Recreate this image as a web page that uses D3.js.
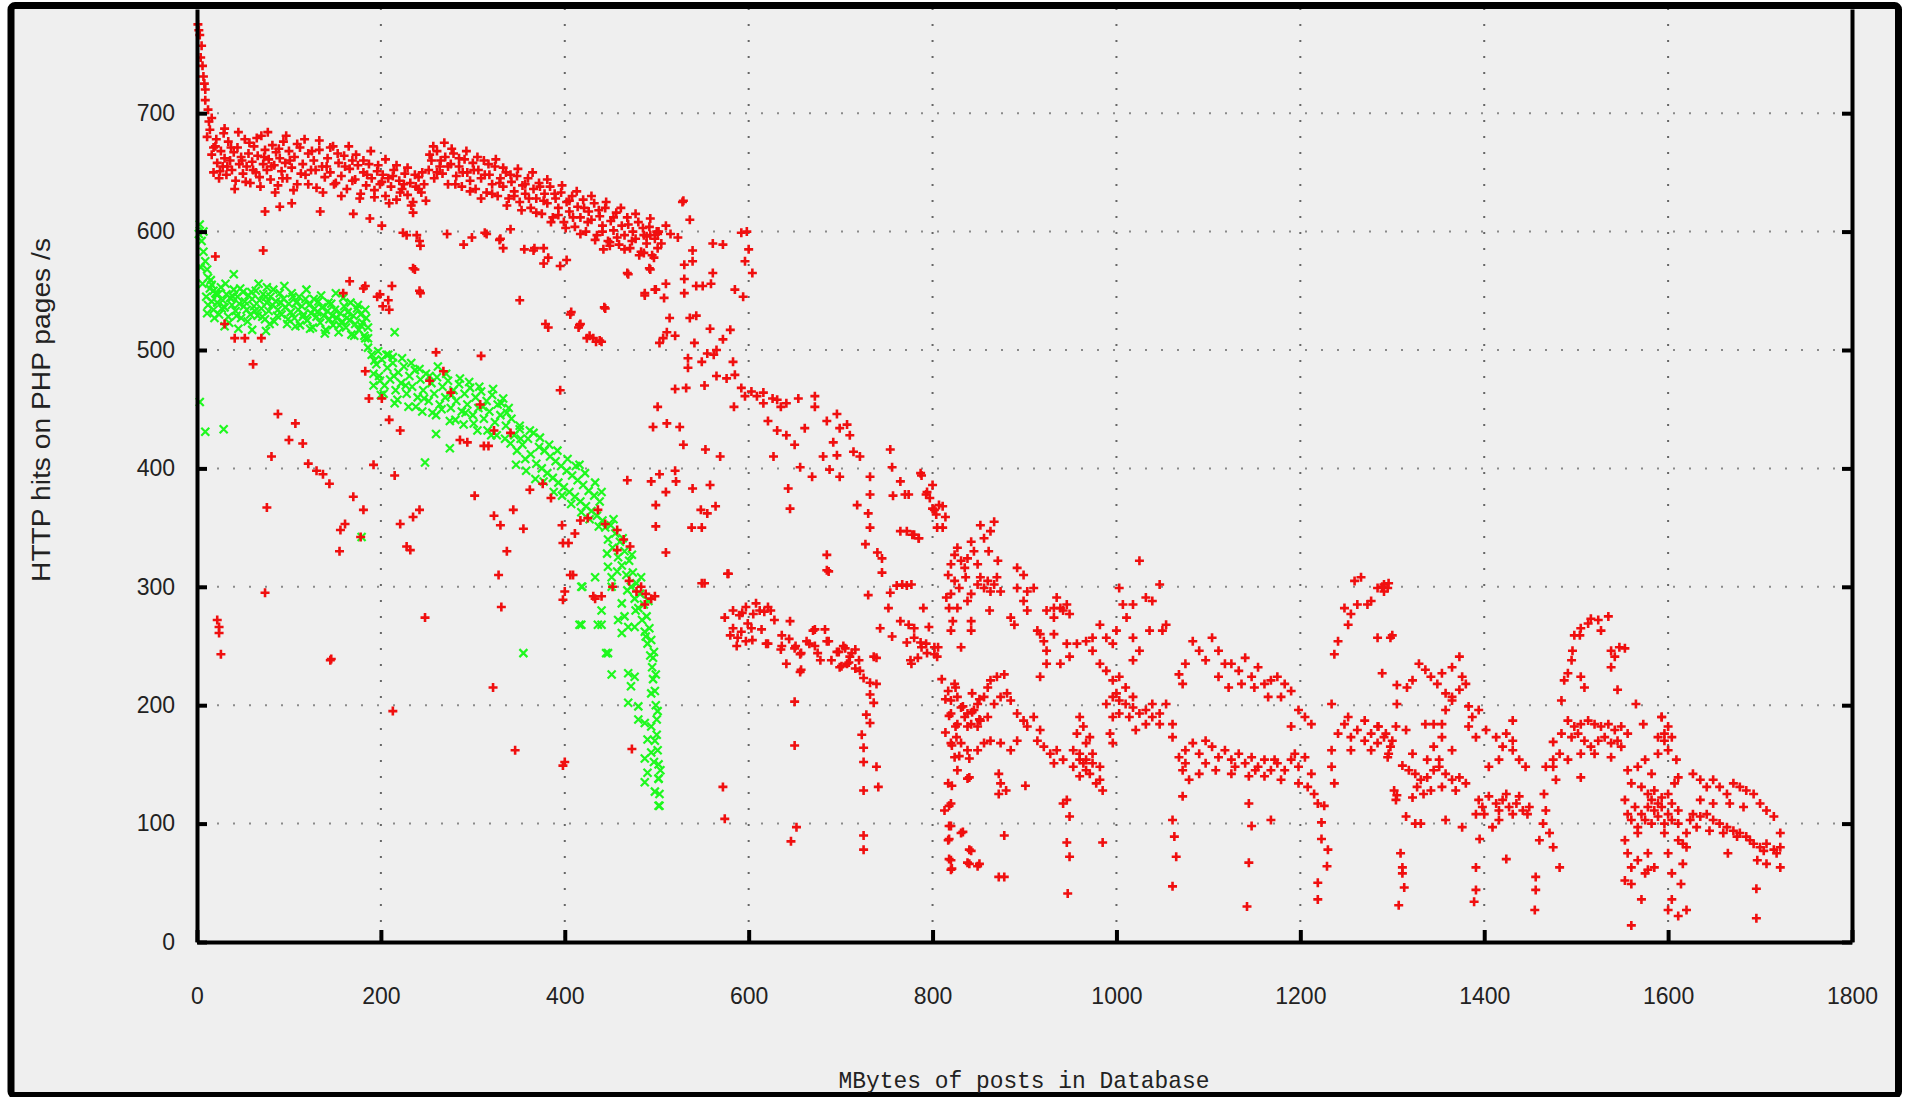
<!DOCTYPE html>
<html>
<head>
<meta charset="utf-8">
<script src="https://cdn.jsdelivr.net/npm/d3@7"></script>
<style>
  html, body { margin: 0; padding: 0; background: #fff; }
  svg { display: block; }
  .tick text { font-family: "Liberation Sans", Arial, sans-serif; font-size: 23px; fill: #222; }
  .axis-title { font-family: "Liberation Sans", Arial, sans-serif; fill: #222; }
</style>
</head>
<body>
<svg id="chart" width="1905" height="1097"></svg>
<script>
var xTicks = [0, 200, 400, 600, 800, 1000, 1200, 1400, 1600, 1800]
var yTicks = [0, 100, 200, 300, 400, 500, 600, 700]
var xTitle = 'MBytes of posts in Database'
var yTitle = 'HTTP hits on PHP pages /s'

// red "+" series
var redStart = [[1,775],[2,770],[3,766],[5,757],[4,747],[6,740],[7,731],[8,725],[9,720],[9,711],[12,703],[13,693],[16,696],[14,686],[11,680],[18,671],[30,687],[20,579]]

var redBand = [[16,665],[18,650],[20,672],[22,658],[24,645],[26,668],[28,655],[30,662],[32,648],[34,676],[36,660],[38,652],[40,667],[42,643],[44,671],[46,657],[48,663],[50,649],[52,678],[54,655],[56,666],[58,641],[60,659],[62,672],[64,650],[66,664],[68,646],[70,681],[72,657],[74,669],[76,652],[78,661],[80,644],[82,673],[84,656],[86,667],[88,639],[90,662],[92,651],[94,676],[96,658],[98,645],[100,668],[103,654],[106,663],[109,640],[112,671],[115,657],[118,648],[121,666],[124,652],[127,660],[130,637],[133,669],[136,655],[139,646],[142,662],[145,650],[148,672],[151,641],[154,658],[157,647],[160,664],[163,636],[166,653],[169,660],[172,644],[175,656],[178,632],[181,650],[184,639],[187,657],[190,645],[193,635],[196,651],[199,640],[202,648],[205,630],[208,645],[211,638],[214,652],[217,627],[220,643],[223,636],[226,649],[229,631],[232,641],[235,625],[238,638],[241,646],[244,633],[247,640],
  [252,652],[255,660],[258,645],[261,668],[264,655],[267,649],[270,663],[273,640],[276,657],[279,666],[282,647],[285,655],[288,638],[291,661],[294,650],[297,643],[300,658],[303,636],[306,652],[309,645],[312,660],[315,633],[318,648],[321,640],[324,655],[327,630],[330,645],[333,638],[336,650],[339,628],
  [342,642],[345,634],[348,647],[351,625],[354,639],[357,632],[360,645],[363,620],[366,636],[369,628],[372,641],[375,615],[378,632],[381,624],[384,638],[387,612],[390,628],[393,620],[396,633],[399,608],[402,625],[405,617],[408,630],[411,604],[414,621],[417,612],[420,627],[423,600],[426,617],[429,610],[432,624],[435,597],[438,613],[441,605],[444,620],[447,592],[450,609],[453,601],[456,616],[459,589],[462,605],[465,597],[468,612],[471,586],[474,600],[477,594],[480,608],[483,583],[486,597],[489,590],[492,604],[495,580],[498,594],[501,586],
  [21,678],[25,651],[29,683],[33,655],[37,671],[41,636],[45,684],[49,660],[53,642],[57,675],[61,652],[65,679],[69,638],[73,663],[77,684],[81,655],[85,633],[89,670],[93,645],[97,681],[101,660],[105,635],[109,674],[113,649],[117,678],[121,640],[125,668],[129,652],[133,677],[137,633],[141,655],[145,671],[149,640],[153,666],[157,630],[161,655],[165,672],[169,643],[173,665],[177,628],[181,660],[185,648],[189,668],[193,629],[197,656],[201,642],[205,661],[209,624],[213,647],[217,656],[221,633],[225,640],[229,654],[233,622],[237,648],[241,636],[245,650],[249,626],[253,665],[257,672],[261,650],[265,660],[269,675],[273,655],[277,670],[281,640],[285,662],[289,650],[293,668],[297,634],[301,652],[305,663],[309,628],[313,648],[317,657],[321,632],[325,661],[329,641],[333,654],[337,622],[341,648],[345,630],[349,653],[353,618],[357,640],[361,628],[365,650],[369,616],[373,638],[377,626],[381,644],[385,608],[389,632],[393,614],[397,639],[401,603],[405,626],[409,612],[413,634],[417,598],[421,620],[425,608],[429,630],[433,593],[437,618],[441,600],[445,625],[449,588],[453,612],[457,595],[461,620],[465,585],[469,606],[473,592],[477,615],[481,580],[485,603],[489,596],[493,611],[497,578],[500,600],[505,590],[510,605],[515,598]]

var redScatter = [[74,617],[90,621],[103,624],[134,617],[170,615],[188,611],[201,605],[208,542],[181,552],[166,558],[196,545],[72,584],[235,616],[237,568],[243,548],[243,588],[239,597],[224,599],[272,598],[290,589],[299,595],[315,598],[330,594],[333,586],[341,602],[351,542],[366,584],[377,586],[395,571],[402,576],[406,530],[382,519],[415,519],[424,510],[444,535],[442,585],[449,591],[469,564],[486,582],[493,568],[498,551],[487,546],[507,510],[493,597],[502,600],[529,626],[598,600],[600,585],[604,565],[596,575],
  [242,592],[228,597],[313,599],[329,593],[356,585],[367,586],[377,573],[382,578],[235,569],[242,550],[199,547],[202,537],[209,534],[159,548],[183,554],[212,554],[379,522],[417,522],[431,510],[438,508],[41,510],[52,510],[70,510],[61,488],[30,522],
  [260,498],[268,482],[309,495],[395,466],[183,482],[187,459],[201,459],[209,441],[221,432],[253,474],[276,464],[308,454],[286,424],[294,422],[312,419],[317,419],[323,432],[341,430],
  [88,446],[107,438],[100,424],[115,421],[81,410],[121,404],[130,398],[137,395],[144,387],[192,403],[215,394],[302,377],[323,360],[330,352],[344,365],[355,349],[362,382],[376,387],[385,375],[397,352],[404,337],[411,345],[417,356],[425,358],[436,365],[444,353],[457,348],[464,340],[471,334],[457,331],
  [76,367],[170,376],[181,365],[161,353],[156,348],[155,330],[178,342],[221,353],[235,359],[242,365],[228,334],[232,331],[337,330],[328,310],[331,283],[248,274],[398,337],[406,310],[431,292],[400,296],[398,289],[74,295],[22,272],[24,266],[24,261],[26,243],[146,239],[213,195],[322,215],[346,162],[398,149],[145,238],[440,292],[452,300],[470,305],[478,296]]

var redMid = [[528,625],[536,610],[592,599],[561,590],[572,589],[523,595],[501,598],[492,569],[468,565],[510,556],[499,551],[508,544],[487,548],[530,572],[539,584],[539,575],[530,560],[530,548],[543,554],[550,554],[559,556],[561,565],[585,551],[594,545],[443,536],[407,532],[416,521],[427,512],[434,507],[440,507],[514,527],[520,512],[511,515],[503,506],[536,527],[543,529],[558,518],[580,517],[572,509],[541,506],
  [534,493],[534,485],[549,490],[555,497],[562,496],[565,500],[583,490],[565,478],[552,470],[576,476],[585,479],[532,468],[520,467],
  [592,468],[596,461],[603,465],[609,461],[616,464],[626,459],[631,458],[641,455],[654,459],[672,461],[635,452],[616,455],[621,440],[631,432],[641,428],[650,420],[661,434],[672,452],[685,440],[696,446],[699,434],[707,437],[710,428],[714,414],[721,410],[696,411],[692,422],[681,410],[627,410],[584,452],[501,452],[496,435],[511,438],[525,435],[529,420],[553,416],[569,410],
  [494,389],[503,395],[520,398],[521,389],[510,380],[539,383],[558,386],[499,369],[564,368],[548,365],[555,362],[499,351],[538,350],[549,350],[510,329],[577,311],[549,303],[468,390],[643,383],[645,366],
  [656,401],[669,393],[688,399],[699,393],[732,393],[754,416],[756,401],[765,389],[757,377],[732,378],[718,369],[730,362],[732,350],[727,336],[740,329],[745,324],[745,312],[787,396],[794,380],[802,365],[811,368],[814,359],[805,350],[780,344],[785,341],[765,347],[774,378],[685,327],[685,314],
  [730,293],[754,295],[761,301],[772,301],[752,282],[743,265],[756,258],[765,271],[780,265],[772,253],[787,253],[794,244],[802,249],[805,241],[776,238],
  [574,274],[583,280],[590,276],[597,283],[605,277],[612,280],[621,283],[583,265],[592,262],[603,265],[580,259],[587,250],[597,254],[619,252],[635,247],[644,256],[651,250],[656,243],[663,254],[670,263],[672,250],[685,254],[696,245],[703,250],[710,241],[716,247],[707,235],[721,229],[678,238],[656,228],[641,235],[699,232],[736,241],
  [409,310],[433,290],[483,300],[488,294],[494,290],[487,285],[498,292],[578,311],[552,303],[687,313],
  [588,257],[593,278],[599,269],[604,255],[608,286],[617,279],[624,280],[628,272],[614,264],[621,252],[636,250],[636,259],[645,271],[650,248],[657,244],[657,230],[666,252],[672,264],[683,264],[675,244],[687,254],[690,238],[698,245],[705,248],[712,244],[720,238],[701,233],[709,236],[716,231],
  [739,240],[725,223],[732,219],[739,218],[732,209],[736,202],[728,192],[732,185],[723,175],[725,164],[725,152],[739,148],[725,128],[741,131],[725,90],[725,78],
  [650,203],[650,166],[652,97],[646,85],[572,131],[574,104],[473,163],[400,152]]

var redTail = [[814,205],[818,191],[825,182],[814,177],[821,166],[829,157],[840,155],[840,139],[821,132],[818,115],[820,98],[818,87],[833,93],[820,69],[821,62],[840,66],[851,66],[842,77],[810,222],[825,215],[843,210],[851,205],[833,199],[843,194],[851,188],
  [770,378],[772,347],[767,302],[777,302],[774,268],[780,257],[777,235],[784,240],[788,249],[793,252],[790,282],[796,266],[802,243],[806,249],[788,394],[793,378],[800,366],[797,375],[807,369],[811,350],[804,361],[800,386],[785,341],[778,344],
  [817,310],[820,319],[824,327],[827,333],[831,322],[835,316],[838,324],[842,338],[845,330],[849,319],[852,308],[856,299],[860,305],[863,296],[867,302],[870,308],[874,296],[852,352],[863,347],[867,355],[856,341],[861,330],[824,305],[842,294],[829,299],[836,308],[849,302],[820,294],[815,291],[818,282],[822,271],[820,263],[827,282],[842,271],[842,263],[831,249],[838,288],[862,280],[871,322],
  [817,212],[820,204],[824,218],[827,207],[831,198],[835,190],[838,193],[842,184],[845,196],[849,201],[852,187],[856,207],[860,215],[863,221],[870,224],[878,226],[820,193],[827,184],[838,182],[849,182],[860,190],[867,201],[874,207],[881,210],[826,173],[820,168],[831,168],[838,162],[849,162],[856,168],[863,170],[874,168],
  [824,156],[827,145],[817,134],[820,117],[813,111],[818,98],[817,86],[818,70],[820,61],[831,92],[840,78],[838,67],[849,64],[838,138],[872,55],[878,55],[878,90],[872,142],[874,134],[872,125],[880,128],[901,132],
  [885,274],[889,268],[892,316],[899,310],[892,299],[903,296],[910,299],[899,288],[903,280],[914,263],[917,260],[921,254],[924,235],[917,224],[932,274],[939,282],[946,285],[935,291],[942,280],[949,277],[932,282],[924,280],[946,252],[949,241],[924,246],[932,260],[939,235],
  [885,204],[892,193],[899,187],[903,182],[910,190],[917,179],[914,170],[921,165],[928,159],[935,162],[942,154],[932,151],[953,162],[960,154],[967,145],[974,151],[960,140],[971,142],[982,148],[982,137],[985,128],[978,134],[964,151],[953,148],[960,159],[967,154],[974,159],[892,170],[885,162],
  [946,120],[949,106],[946,84],[949,72],[947,41],[942,117],[985,84],[960,190],[957,176],[964,182],[971,173],[967,168],
  [957,252],[967,254],[974,246],[982,235],[989,229],[996,221],[989,257],[982,268],[974,257],[996,252],[1000,263],[1007,285],[1011,274],[1003,299],[1018,285],[1025,322],[1032,291],[1039,288],[1047,302],[1050,263],[1054,268],[1036,263],[1018,257],[1025,246],[1018,238],[1003,224],[1000,210],
  [989,201],[996,207],[1003,204],[1010,201],[1018,198],[1025,193],[1032,196],[1039,190],[1047,184],[1054,201],[1014,190],[1021,179],[1003,193],[996,190],[1039,201],[1032,184],[1047,193],[1018,207],[1010,215],[993,176],[996,168],[1061,184],[1061,173],
  [1061,103],[1063,89],[1065,72],[1061,47],[1072,123],[1068,226],[1072,218],[1075,235],
  [1083,254],[1090,246],[1097,238],[1104,257],[1111,246],[1118,235],[1125,235],[1133,229],[1140,240],[1147,224],[1154,232],[1161,218],[1168,221],[1175,224],[1183,218],[1190,212],[1111,224],[1122,215],[1136,218],[1150,215],[1165,207],[1179,207],[1198,196],[1205,190],[1212,184],[1190,182],
  [1068,156],[1075,162],[1083,168],[1090,159],[1097,170],[1104,165],[1111,156],[1118,162],[1125,154],[1133,159],[1140,151],[1147,156],[1154,148],[1161,154],[1168,145],[1175,151],[1183,145],[1190,154],[1198,148],[1205,156],[1212,142],[1072,145],[1079,137],[1090,142],[1108,145],[1125,142],[1144,140],[1161,140],[1179,137],[1198,134],[1208,131],[1215,125],[1075,151],[1097,151],[1129,148],[1151,145],[1172,154],[1194,159],
  [1144,117],[1147,98],[1144,67],[1142,30],[1168,103],[1219,117],[1226,115],[1223,101],[1223,87],[1230,78],[1229,64],[1219,50],[1219,36],
  [1234,201],[1234,162],[1241,176],[1248,184],[1255,173],[1262,179],[1270,170],[1277,176],[1284,168],[1291,173],[1298,165],[1252,190],[1270,187],[1284,182],[1255,162],[1277,162],[1295,156],[1237,134],[1234,148],
  [1237,243],[1241,254],[1248,282],[1255,277],[1262,285],[1259,305],[1266,308],[1273,285],[1277,288],[1284,299],[1291,302],[1252,268],[1284,257],[1295,299],[1298,257],[1302,128],[1304,120],
  [1289,300],[1296,303],[1291,296],[1300,259],[1289,227],[1285,182],[1293,176],[1300,170],[1296,159],[1304,182],
  [1305,217],[1305,201],[1311,149],[1305,124],[1309,75],[1311,63],[1313,46],[1307,31],[1311,58],
  [1329,235],[1336,230],[1342,224],[1349,218],[1358,210],[1365,207],[1373,213],[1373,241],[1365,232],[1354,227],[1380,218],[1376,224],[1383,199],[1387,190],[1316,215],[1322,221],[1315,179],[1336,184],[1345,184],[1354,184],[1358,196],[1365,204],[1383,182],[1322,159],[1345,165],[1354,173],[1365,162],[1351,154],
  [1318,145],[1325,142],[1331,137],[1338,139],[1345,145],[1351,148],[1358,142],[1365,137],[1373,139],[1380,134],[1327,131],[1334,125],[1342,128],[1354,131],[1369,128],[1338,154],[1322,122],[1315,106],[1325,100],[1331,100],[1358,103],[1376,97],
  [1391,108],[1394,120],[1391,173],[1394,196],[1391,63],[1391,44],[1389,34],[1395,87],
  [1398,114],[1405,123],[1413,117],[1420,120],[1427,114],[1435,117],[1442,111],[1449,114],[1400,108],[1416,111],[1431,108],[1447,108],[1424,125],[1438,123],[1416,103],[1409,97],[1424,70],
  [1402,179],[1413,173],[1424,176],[1431,170],[1420,165],[1431,162],[1438,154],[1445,148],[1416,154],[1405,148],[1431,187],
  [1456,55],[1456,44],[1455,27],[1460,86],[1464,100],[1467,111],[1465,125],
  [1467,148],[1475,154],[1482,159],[1475,169],[1484,176],[1484,204],[1487,221],[1491,227],[1495,238],[1496,246],[1498,259],[1504,259],[1505,265],[1513,269],[1516,273],[1524,272],[1535,275],[1527,263],[1538,246],[1547,249],[1553,248],[1542,241],[1538,232],[1505,224],[1509,215],[1545,213],
  [1491,187],[1498,182],[1505,184],[1513,187],[1520,184],[1527,182],[1535,184],[1542,179],[1549,182],[1556,176],[1495,173],[1502,176],[1509,170],[1516,165],[1524,170],[1531,173],[1538,168],[1545,170],[1549,165],[1505,159],[1520,159],[1538,156],[1491,154],[1475,148],[1505,139],[1478,137],[1482,63],[1475,80],[1471,92],
  [1556,145],[1560,134],[1567,148],[1575,154],[1582,142],[1589,159],[1596,170],[1600,182],[1593,190],[1589,173],[1571,131],[1578,125],[1585,128],[1593,122],[1600,125],[1604,117],[1611,111],[1607,134],[1564,114],[1571,108],[1578,114],[1585,111],[1593,114],[1600,108],[1560,103],[1567,97],[1575,103],[1582,100],[1589,106],[1596,100],[1604,103],[1611,100],[1553,120],[1556,108],[1582,120],[1589,117],
  [1553,86],[1556,75],[1560,63],[1553,52],[1560,49],[1567,69],[1575,58],[1578,75],[1578,61],[1571,36],[1560,14],[1585,63],[1596,92],[1600,75],[1604,58],[1600,27],[1604,36],[1611,22],[1620,27],[1614,49],[1616,66],[1611,86],[1567,92],
  [1565,201],[1573,184],[1593,190],[1596,176],[1604,173],[1600,162],[1609,154],[1611,139],
  [1616,83],[1620,92],[1624,103],[1627,108],[1635,106],[1642,108],[1649,103],[1656,100],[1664,97],[1671,94],[1678,92],[1685,89],[1693,83],[1700,80],[1707,83],[1715,78],[1722,80],[1631,97],[1645,94],[1660,92],[1675,89],[1689,86],[1704,77],[1718,75],[1697,69],[1707,66],[1722,63],
  [1627,142],[1635,137],[1642,131],[1649,137],[1656,131],[1664,125],[1671,134],[1678,131],[1685,128],[1693,125],[1635,120],[1649,117],[1667,117],[1682,114],[1700,117],[1707,111],[1715,106],[1722,92],[1665,75],[1620,80],[1696,45],[1696,20]]

// green "x" series
var greenStart = [[3,606],[7,600],[5,592],[7,583],[9,575],[11,568],[12,561],[16,555],[18,550],[21,547],[3,456],[9,431],[29,433],[40,564],[76,553],[2,598],[4,570],[6,556]]

var greenBand = [[10,545],[12,538],[14,552],[16,541],[18,534],[20,548],[22,540],[24,530],[26,553],[28,542],[30,536],[32,547],[34,528],[36,544],[38,538],[40,551],[42,533],[44,545],[46,539],[48,527],[50,549],[52,541],[54,534],[56,546],[58,530],[60,543],[62,537],[64,550],[66,529],[68,542],[70,535],[72,547],[74,526],[76,540],[78,533],[80,545],[82,538],[84,524],[86,541],[88,534],[90,548],[92,530],[94,543],[96,536],[98,522],[100,539],[102,532],[104,545],[106,527],[108,540],[110,534],[112,521],[114,537],[116,530],[118,543],[120,525],[122,538],[124,531],[126,519],[128,535],[130,528],[132,541],[134,523],[136,536],[138,529],[140,517],[142,533],[144,526],[146,539],[148,521],[150,534],[152,527],[154,515],[156,531],[158,524],[160,537],[162,519],[164,532],[166,525],[168,513],[170,529],[172,522],[174,535],[176,517],[178,530],[180,523],[182,512],[184,527],[186,519],[30,520],[45,518],[60,517],[75,516],
  [183,510],[186,502],[190,496],[193,491],[192,480],[199,474],[206,496],[213,494],[215,515],
  [11,531],[15,559],[19,527],[23,547],[27,535],[31,556],[35,523],[39,545],[43,529],[47,552],[51,537],[55,524],[59,549],[63,533],[67,556],[71,528],[75,545],[79,522],[83,551],[87,529],[91,540],[95,554],[99,526],[103,548],[107,520],[111,545],[115,528],[119,551],[123,518],[127,543],[131,532],[135,546],[139,514],[143,540],[147,529],[151,548],[155,521],[159,544],[163,527],[167,540],[171,512],[175,538],[179,520],[183,534],[186,510]]

var greenSlope = [[195,488],[198,478],[201,492],[204,470],[207,485],[210,475],[213,489],[216,466],[219,481],[222,472],[225,486],[228,463],[231,478],[234,469],[237,483],[240,460],[243,475],[246,466],[249,480],[252,457],[255,472],[258,463],[261,477],[264,454],[267,469],[270,460],[273,474],[276,451],[279,466],[282,457],[285,471],[288,448],[291,463],[294,454],[297,468],[300,445],[303,460],[306,451],[309,465],[312,442],[315,457],[318,448],[321,462],[324,439],[327,454],[330,445],[333,459],[336,436],[339,451],[342,442],
  [200,462],[215,455],[230,452],[245,448],[260,445],[275,440],[290,437],[305,432],[320,428],[335,425],[248,405],[351,436],[416,403],[260,429],[275,417],
  [192,470],[197,499],[203,463],[208,496],[214,478],[218,458],[223,493],[227,470],[233,489],[238,452],[242,484],[247,459],[253,478],[256,447],[262,486],[266,450],[271,480],[277,462],[281,441],[286,476],[292,447],[296,473],[301,438],[307,469],[311,452],[316,432],[322,467],[326,428],[331,455],[337,447],[341,421],
  [345,428],[348,415],[351,433],[354,420],[357,408],[360,425],[363,412],[366,430],[369,404],[372,418],[375,400],[378,415],[381,396],[384,410],[387,392],[390,406],[393,388],[396,402],[399,384],[402,398],[405,380],[408,394],[411,376],[414,390],[417,372],[420,386],[423,368],[426,381],[429,364],[432,377],[435,360],[438,372],[441,356],
  [347,403],[352,425],[358,398],[362,432],[368,391],[373,426],[377,389],[383,420],[388,380],[392,415],[397,377],[403,408],[407,370],[412,402],[418,363],[422,396],[427,357],[433,388],[437,351],[440,380]]

var greenTail = [[444,350],[447,340],[450,352],[452,333],[455,345],[458,325],[460,338],[462,318],[465,330],[467,310],[470,322],[472,300],[474,312],[476,290],[478,303],[480,282],[482,294],[484,272],[486,285],[487,262],[489,275],[490,252],[492,265],[493,242],[494,255],[495,232],[496,222],[497,245],[498,212],[499,200],[500,188],[500,175],[501,162],[502,150],[502,138],[503,125],[503,115],
  [418,300],[433,308],[447,317],[451,308],[451,300],[462,286],[458,272],[465,275],[462,261],[469,266],[476,266],[440,280],[436,268],[418,268],[447,244],[451,226],[469,227],[476,224],[472,216],[469,202],[480,199],[480,188],[487,185],[494,182],[490,171],[494,160],[487,155],[497,152],[490,143],[502,138],[498,127],[502,115],[487,135],
  [355,244],[445,244],[416,268],[440,268],[179,342],[419,300],
  [446,328],[453,357],[457,313],[463,341],[468,297],[473,327],[477,280],[483,308],[488,258],[491,288],[496,240],[499,226],[494,210],[501,195],[498,170],[504,145]]

var redPoints = redStart.concat(redBand, redScatter, redMid, redTail)
var greenPoints = greenStart.concat(greenBand, greenSlope, greenTail)

var W = 1905, H = 1097
var margin = { top: 9, right: 53, bottom: 155, left: 197 }

var x = d3.scaleLinear().domain([0, 1800]).range([margin.left, W - margin.right])
var y = d3.scaleLinear().domain([0, 788]).range([H - margin.bottom, margin.top])

var svg = d3.select('#chart')

// image frame
svg.append('rect')
  .attr('x', 11).attr('y', 5.5)
  .attr('width', 1887.5).attr('height', 1090)
  .attr('rx', 4)
  .attr('fill', '#efefef')
  .attr('stroke', '#000')
  .attr('stroke-width', 7)

// dotted grid
svg.append('g').selectAll('line')
  .data(yTicks.filter(function(d) { return d > 0 }))
  .enter().append('line')
  .attr('x1', x(0) + 4).attr('x2', x(1800) - 4)
  .attr('y1', function(d) { return y(d) }).attr('y2', function(d) { return y(d) })
  .attr('stroke', '#8a8a8a').attr('stroke-width', 2)
  .attr('stroke-dasharray', '2,14')

svg.append('g').selectAll('line')
  .data(xTicks.filter(function(d) { return d > 0 && d < 1800 }))
  .enter().append('line')
  .attr('x1', function(d) { return x(d) }).attr('x2', function(d) { return x(d) })
  .attr('y1', y(0) - 4).attr('y2', margin.top)
  .attr('stroke', '#666').attr('stroke-width', 2)
  .attr('stroke-dasharray', '2,14')

var cross = 'M-4.5,0H4.5M0,-4.5V4.5'
var xmark = 'M-4,-4L4,4M-4,4L4,-4'

svg.append('g').selectAll('path')
  .data(greenPoints)
  .enter().append('path')
  .attr('d', xmark)
  .attr('transform', function(d) { return 'translate(' + x(d[0]) + ',' + y(d[1]) + ')' })
  .attr('stroke', '#1ef81e').attr('stroke-width', 2.2).attr('fill', 'none')

svg.append('g').selectAll('path')
  .data(redPoints)
  .enter().append('path')
  .attr('d', cross)
  .attr('transform', function(d) { return 'translate(' + x(d[0]) + ',' + y(d[1]) + ')' })
  .attr('stroke', '#f00f0f').attr('stroke-width', 2.6).attr('fill', 'none')

// axes
var xAxis = svg.append('g')
  .attr('transform', 'translate(0,' + y(0) + ')')
  .call(d3.axisBottom(x).tickValues(xTicks).tickFormat(d3.format('d')).tickSize(-12).tickSizeOuter(0).tickPadding(46))
var yAxis = svg.append('g')
  .attr('transform', 'translate(' + x(0) + ',0)')
  .call(d3.axisLeft(y).tickValues(yTicks).tickFormat(d3.format('d')).tickSize(-10).tickSizeOuter(0).tickPadding(22))
var yAxisRight = svg.append('g')
  .attr('transform', 'translate(' + x(1800) + ',0)')
  .call(d3.axisRight(y).tickValues(yTicks).tickSize(-10).tickSizeOuter(0).tickFormat(''))

svg.selectAll('.domain').attr('stroke', '#000').attr('stroke-width', 4)
svg.selectAll('.tick line').attr('stroke', '#000').attr('stroke-width', 4)

// titles
svg.append('text')
  .attr('class', 'axis-title')
  .attr('x', 1024).attr('y', 1088)
  .attr('text-anchor', 'middle')
  .attr('textLength', 371).attr('lengthAdjust', 'spacingAndGlyphs')
  .style('font-family', '"Liberation Mono", "DejaVu Sans Mono", monospace')
  .style('font-size', '24px')
  .text(xTitle)

svg.append('text')
  .attr('class', 'axis-title')
  .attr('transform', 'translate(50,410) rotate(-90)')
  .attr('text-anchor', 'middle')
  .attr('textLength', 344).attr('lengthAdjust', 'spacingAndGlyphs')
  .style('font-size', '25px')
  .text(yTitle)
</script>
</body>
</html>
